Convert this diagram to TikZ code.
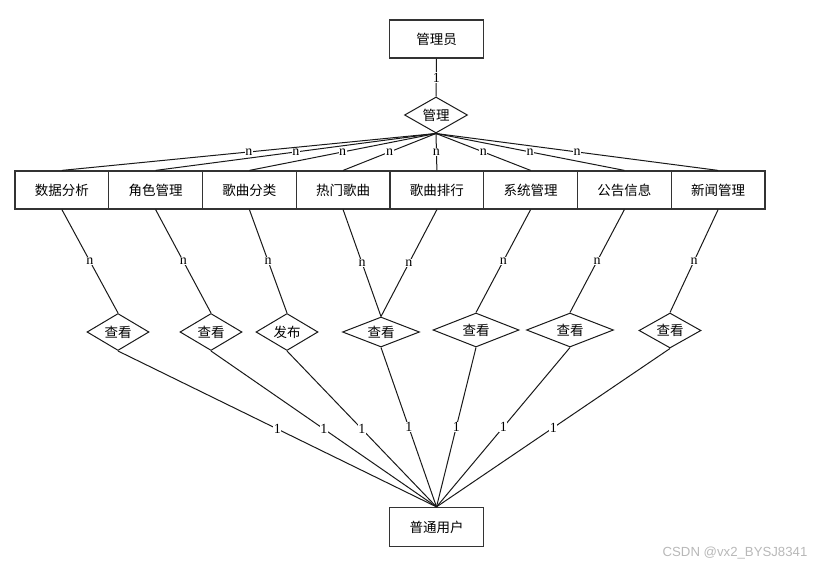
\documentclass[tikz,border=0pt]{standalone}
\usepackage{fontspec}
\setmainfont{Liberation Serif}
\newfontfamily\cjkfont{Noto Sans CJK SC}
\newfontfamily\wmfont{Liberation Sans}
\usetikzlibrary{shapes.geometric}
\begin{document}
\begin{tikzpicture}[x=1pt,y=-1pt,
  ent/.style={draw=black!80, line width=1.2pt, minimum width=93.75pt, minimum height=38pt, inner sep=0pt,
              font=\cjkfont\fontsize{13.5}{13.5}\selectfont},
  rel/.style={draw=black!90, line width=1pt, diamond, aspect=1.7, inner sep=0pt,
              font=\cjkfont\fontsize{13.5}{13.5}\selectfont, minimum width=62pt, minimum height=37pt},
  conn/.style={draw=black!90, line width=1pt},
  card/.style={fill=white, inner sep=0.6pt, font=\fontsize{14}{14}\selectfont}]
\useasboundingbox (0,0) rectangle (830,570);

% top entity and relation
\node[ent] (admin) at (436.5,39) {管理员};
\node[rel, minimum width=63pt, minimum height=36pt] (mg) at (436,115) {管理};

% middle entities
\node[ent] (e1) at (61.9,190) {数据分析};
\node[ent] (e2) at (155.6,190) {角色管理};
\node[ent] (e3) at (249.4,190) {歌曲分类};
\node[ent] (e4) at (343.1,190) {热门歌曲};
\node[ent] (e5) at (436.9,190) {歌曲排行};
\node[ent] (e6) at (530.6,190) {系统管理};
\node[ent] (e7) at (624.4,190) {公告信息};
\node[ent] (e8) at (718.1,190) {新闻管理};

% lower relations
\node[rel] (r1) at (118,332) {查看};
\node[rel] (r2) at (211,332) {查看};
\node[rel] (r3) at (287,332) {发布};
\node[rel, minimum width=77pt, minimum height=30pt] (r4) at (381,332) {查看};
\node[rel, minimum width=86pt, minimum height=34pt] (r5) at (476,330) {查看};
\node[rel, minimum width=87pt, minimum height=34pt] (r6) at (570,330) {查看};
\node[rel, minimum width=62pt, minimum height=35pt] (r7) at (670,330.5) {查看};

% bottom entity
\node[ent, minimum height=39pt] (user) at (436.5,527) {普通用户};

% admin -- manage
\draw[conn] (admin.south) -- node[card]{1} (mg.north);

% manage -- entities
\foreach \e in {e1,e2,e3,e4,e5,e6,e7,e8}
  \draw[conn] (mg.south) -- node[card]{n} (\e.north);

% entities -- relations
\draw[conn] (e1.south) -- node[card]{n} (r1.north);
\draw[conn] (e2.south) -- node[card]{n} (r2.north);
\draw[conn] (e3.south) -- node[card]{n} (r3.north);
\draw[conn] (e4.south) -- node[card]{n} (r4.north);
\draw[conn] (e5.south) -- node[card]{n} (r4.north);
\draw[conn] (e6.south) -- node[card]{n} (r5.north);
\draw[conn] (e7.south) -- node[card]{n} (r6.north);
\draw[conn] (e8.south) -- node[card]{n} (r7.north);

% relations -- user
\foreach \r in {r1,r2,r3,r4,r5,r6,r7}
  \draw[conn] (\r.south) -- node[card]{1} (user.north);

% watermark
\node[text=black!28, font=\wmfont\fontsize{13.2}{13.2}\selectfont, inner sep=0pt] (wm) at (735,553) {CSDN @vx2\_BYSJ8341};
\end{tikzpicture}
\end{document}
